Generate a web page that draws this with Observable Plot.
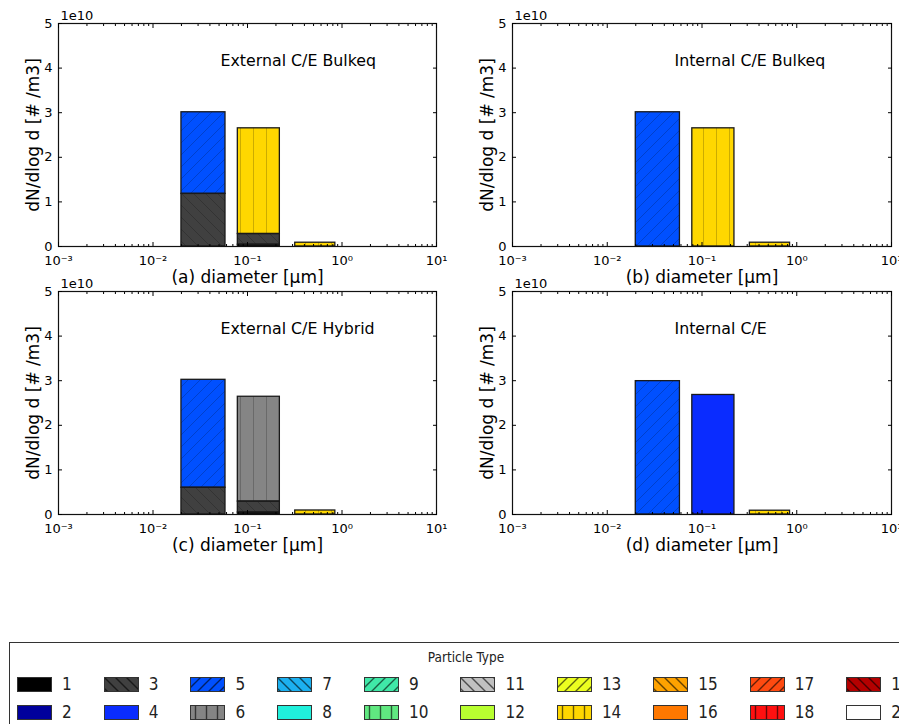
<!DOCTYPE html>
<html><head><meta charset="utf-8">
<script src="https://cdn.jsdelivr.net/npm/d3@7"></script>
<script src="https://cdn.jsdelivr.net/npm/@observablehq/plot@0.6"></script>
<style>
body{margin:0;background:#fff;}
#fig{position:relative;width:899px;height:724px;overflow:hidden;background:#fff;font-family:"DejaVu Sans",sans-serif;}
.panel{position:absolute;}
#legend{position:absolute;left:9px;top:642px;width:912px;height:90px;border:1.3px solid #333;background:#fff;
  font-family:"DejaVu Sans Condensed","DejaVu Sans",sans-serif;font-stretch:condensed;}
#legend .title{position:absolute;top:6px;left:0;width:100%;text-align:center;font-size:13.5px;color:#222;}
#legend .cols{position:absolute;top:34px;left:7px;display:flex;gap:32px;}
#legend .col{display:flex;flex-direction:column;gap:13px;}
#legend .item{display:flex;align-items:center;height:15px;}
#legend .item svg{margin-right:10px;display:block;}
#legend .item span{font-size:17px;line-height:15px;color:#222;}
</style></head><body><div id="fig"></div>
<script>
// ---- data ----
const typeIds = [1,2,3,4,5,6,7,8,9,10,11,12,13,14,15,16,17,18,19,20];
const typeColors = ["#000000","#00009c","#404040","#0a2cff","#0050ff","#858585","#1cb0f0","#20f0dc","#40e8a8","#60e880",
                    "#c0c0c0","#b8ff30","#ecff20","#ffd700","#ffa200","#ff7800","#ff4a10","#ff1010","#b40000","#ffffff"];
const typeHatch = ["","","\\","","/","|","\\","","/","|","\\","","/","|","\\","","/","|","\\",""];
const binLeft = [0.02, 0.079, 0.32];
const binRight = [0.0585, 0.22, 0.85];
const xTicks = [1e-3, 1e-2, 1e-1, 1, 10];
const xMinorTicks = [2e-3,3e-3,4e-3,5e-3,6e-3,7e-3,8e-3,9e-3,2e-2,3e-2,4e-2,5e-2,6e-2,7e-2,8e-2,9e-2,
                     0.2,0.3,0.4,0.5,0.6,0.7,0.8,0.9,2,3,4,5,6,7,8,9];
const xTickLabels = ["10\u207B\u00B3","10\u207B\u00B2","10\u207B\u00B9","10\u2070","10\u00B9"];
const yTicks = [0, 1e10, 2e10, 3e10, 4e10, 5e10];
const yTickLabels = ["0","1","2","3","4","5"];
const yOffsetLabel = "1e10";
const yLabel = "dN/dlog d [# /m3]";
const panelTitles = ["External C/E Bulkeq", "Internal C/E Bulkeq", "External C/E Hybrid", "Internal C/E"];
const panelXLabels = ["(a) diameter [µm]", "(b) diameter [µm]", "(c) diameter [µm]", "(d) diameter [µm]"];
const legendTitle = "Particle Type";

// stacked segments, bottom to top
const aBin = [0, 0, 1, 1, 1, 2];
const aType = [3, 5, 1, 3, 14, 14];
const aValue = [1.18e10, 1.83e10, 0.04e10, 0.24e10, 2.37e10, 0.085e10];

const bBin = [0, 1, 2];
const bType = [5, 14, 14];
const bValue = [3.01e10, 2.65e10, 0.085e10];

const cBin = [0, 0, 1, 1, 1, 2];
const cType = [3, 5, 1, 3, 6, 14];
const cValue = [0.60e10, 2.42e10, 0.045e10, 0.245e10, 2.35e10, 0.09e10];

const dBin = [0, 1, 2];
const dType = [5, 4, 14];
const dValue = [2.99e10, 2.68e10, 0.085e10];

// ---- patterns ----
const fig = document.getElementById("fig");
const NS = "http://www.w3.org/2000/svg";
const defsSvg = document.createElementNS(NS, "svg");
defsSvg.setAttribute("width", 0); defsSvg.setAttribute("height", 0);
defsSvg.style.position = "absolute";
const hatchKey = {"/": "s", "\\": "b", "|": "v"};
function addPattern(id, kind, size, stroke, sw) {
  const p = document.createElementNS(NS, "pattern");
  p.setAttribute("id", id);
  p.setAttribute("patternUnits", "userSpaceOnUse");
  p.setAttribute("width", size); p.setAttribute("height", size);
  const path = document.createElementNS(NS, "path");
  const s = size;
  let d;
  if (kind === "s") d = `M-2,${s+2} L${s+2},-2 M-2,2 L2,-2 M${s-2},${s+2} L${s+2},${s-2}`;
  else if (kind === "b") d = `M-2,-2 L${s+2},${s+2} M${s-2},-2 L${s+2},2 M-2,${s-2} L2,${s+2}`;
  else d = `M${s/2},-1 L${s/2},${s+1}`;
  path.setAttribute("d", d);
  path.setAttribute("stroke", stroke);
  path.setAttribute("stroke-width", sw);
  path.setAttribute("fill", "none");
  p.appendChild(path);
  defsSvg.appendChild(p);
}
for (const k of ["s", "b", "v"]) {
  addPattern("bh-" + k, k, k === "v" ? 13 : 12, "rgba(0,0,0,0.2)", 1);
  addPattern("lh-" + k, k, 11, "rgba(0,0,0,0.6)", 1.4);
}
fig.appendChild(defsSvg);

// ---- panels ----
function makePanel(bins, types, values, idx, left, top, width, mLeft, mRight) {
  const rows = [];
  const cum = new Map();
  bins.forEach((b, i) => {
    const y1 = cum.get(b) || 0, y2 = y1 + values[i];
    cum.set(b, y2);
    const t = types[i] - 1;
    rows.push({x1: binLeft[b], x2: binRight[b], y1, y2, fill: typeColors[t], hatch: typeHatch[t]});
  });
  const hatched = rows.filter(r => r.hatch);
  const plot = Plot.plot({
    width, height: 290,
    marginLeft: mLeft, marginRight: mRight, marginTop: 23, marginBottom: 44,
    style: {background: "transparent", fontFamily: "DejaVu Sans", fontSize: "13px", color: "#000", overflow: "visible"},
    x: {type: "log", domain: [1e-3, 10], label: null},
    y: {domain: [0, 5e10], label: null},
    color: {type: "identity"},
    marks: [
      Plot.rect(rows, {x1: "x1", x2: "x2", y1: "y1", y2: "y2", fill: "fill"}),
      Plot.rect(hatched, {x1: "x1", x2: "x2", y1: "y1", y2: "y2", fill: r => `url(#bh-${hatchKey[r.hatch]})`}),
      Plot.rect(rows, {x1: "x1", x2: "x2", y1: "y1", y2: "y2", fill: "none", stroke: "#1a1a1a", strokeWidth: 1.3}),
      Plot.frame({stroke: "#111", strokeWidth: 1.2}),
      Plot.axisX(xTicks, {anchor: "bottom", tickSize: -4, tickPadding: 13, label: null,
        tickFormat: d => xTickLabels[xTicks.indexOf(d)]}),
      Plot.axisX(xTicks, {anchor: "top", tickSize: -4, label: null, tickFormat: () => ""}),
      Plot.axisX(xMinorTicks, {anchor: "bottom", tickSize: -2, label: null, tickFormat: () => ""}),
      Plot.axisX(xMinorTicks, {anchor: "top", tickSize: -2, label: null, tickFormat: () => ""}),
      Plot.axisY(yTicks, {anchor: "left", tickSize: -4, tickPadding: 10, label: null,
        tickFormat: d => yTickLabels[yTicks.indexOf(d)]}),
      Plot.axisY(yTicks, {anchor: "right", tickSize: -4, label: null, tickFormat: () => ""}),
      Plot.text([yOffsetLabel], {text: d => d, frameAnchor: "top-left", dx: 2, dy: -8, textAnchor: "start", lineAnchor: "middle", fontSize: 13}),
      Plot.text([panelTitles[idx]], {text: d => d, frameAnchor: "top-left", dx: 162, dy: 37, textAnchor: "start", lineAnchor: "middle", fontSize: 15.8}),
      Plot.text([panelXLabels[idx]], {text: d => d, frameAnchor: "bottom", dy: 31, lineAnchor: "middle", textAnchor: "middle", fontSize: 17}),
      Plot.text([yLabel], {text: d => d, frameAnchor: "left", dx: -25, rotate: -90, textAnchor: "middle", lineAnchor: "middle", fontSize: 17})
    ]
  });
  plot.classList.add("panel");
  plot.style.left = left + "px";
  plot.style.top = top + "px";
  fig.appendChild(plot);
}
makePanel(aBin, aType, aValue, 0, 0, 0, 450, 58, 14);
makePanel(bBin, bType, bValue, 1, 450, 0, 449, 62, 8);
makePanel(cBin, cType, cValue, 2, 0, 268, 450, 58, 14);
makePanel(dBin, dType, dValue, 3, 450, 268, 449, 62, 8);

// ---- legend ----
const legend = document.createElement("div");
legend.id = "legend";
const lt = document.createElement("div");
lt.className = "title"; lt.textContent = legendTitle;
legend.appendChild(lt);
const cols = document.createElement("div");
cols.className = "cols";
for (let c = 0; c < typeIds.length / 2; c++) {
  const col = document.createElement("div");
  col.className = "col";
  for (let r = 0; r < 2; r++) {
    const i = c * 2 + r;
    const item = document.createElement("div");
    item.className = "item";
    const sw = document.createElementNS(NS, "svg");
    sw.setAttribute("width", 35); sw.setAttribute("height", 15);
    const rect = document.createElementNS(NS, "rect");
    rect.setAttribute("x", 0.5); rect.setAttribute("y", 0.5);
    rect.setAttribute("width", 34); rect.setAttribute("height", 14);
    rect.setAttribute("fill", typeColors[i]);
    sw.appendChild(rect);
    if (typeHatch[i]) {
      const hr = rect.cloneNode();
      hr.setAttribute("fill", `url(#lh-${hatchKey[typeHatch[i]]})`);
      sw.appendChild(hr);
    }
    const br = rect.cloneNode();
    br.setAttribute("fill", "none"); br.setAttribute("stroke", "#333"); br.setAttribute("stroke-width", 1);
    sw.appendChild(br);
    item.appendChild(sw);
    const lab = document.createElement("span");
    lab.textContent = typeIds[i];
    item.appendChild(lab);
    col.appendChild(item);
  }
  cols.appendChild(col);
}
legend.appendChild(cols);
fig.appendChild(legend);
</script></body></html>
